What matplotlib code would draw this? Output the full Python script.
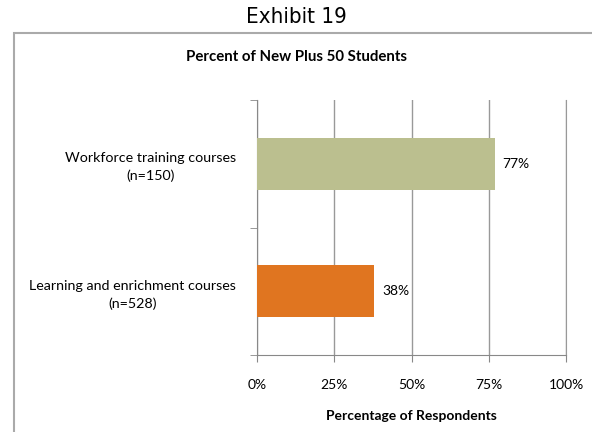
import matplotlib.pyplot as plt
from matplotlib.patches import Rectangle

plt.rcParams["font.family"] = ['Lato', 'DejaVu Sans']

categories = ['Learning and enrichment courses\n(n=528)', 'Workforce training courses\n(n=150)']
values = [38, 77]
colors = ['#E07520', '#BBBF8F']
x_ticks = [0, 25, 50, 75, 100]

fig = plt.figure(figsize=(5.92, 4.32), dpi=100)

# outer chart box
fig.patches.append(Rectangle((14/592, -0.05), 1.0, 1 - 33/432 + 0.05, transform=fig.transFigure,
                             fill=False, edgecolor='#AAAAAA', linewidth=1.5))

fig.text(0.5, 1 - 17/432, 'Exhibit 19', ha='center', va='center', fontsize=16,
         family='DejaVu Sans', fontstretch='condensed')
fig.text(0.5, 1 - 57/432, 'Percent of New Plus 50 Students', ha='center', va='center',
         fontsize=10.8, fontweight='bold')

ax = fig.add_axes([257/592, 77/432, 309/592, 255/432])
ypos = list(range(len(categories)))
ax.barh(ypos, values, height=0.41, color=colors, zorder=3)
for y, v in zip(ypos, values):
    ax.text(v + 2.5, y, f'{v}%', va='center', ha='left', fontsize=10)

ax.set_xlim(0, 100)
ax.set_ylim(-0.5, 1.5)
ax.set_xticks(x_ticks)
ax.set_xticklabels([f'{t}%' for t in x_ticks], fontsize=10)
ax.set_yticks(ypos)
ax.set_yticklabels(categories, fontsize=10.3, multialignment='center', linespacing=1.5)
ax.set_yticks([-0.5, 0.5, 1.5], minor=True)
ax.tick_params(axis='y', which='major', length=0, pad=15)
ax.tick_params(axis='y', which='minor', length=5, color='#888888')
ax.tick_params(axis='x', length=5, color='#888888', pad=12)
ax.grid(axis='x', color='#999999', linewidth=1, zorder=0)
ax.spines['top'].set_visible(False)
ax.spines['right'].set_color('#999999')
for s in ['left', 'bottom']:
    ax.spines[s].set_color('#888888')
ax.set_xlabel('Percentage of Respondents', fontsize=10, fontweight='bold', labelpad=14)

plt.savefig('out.png', dpi=100)
